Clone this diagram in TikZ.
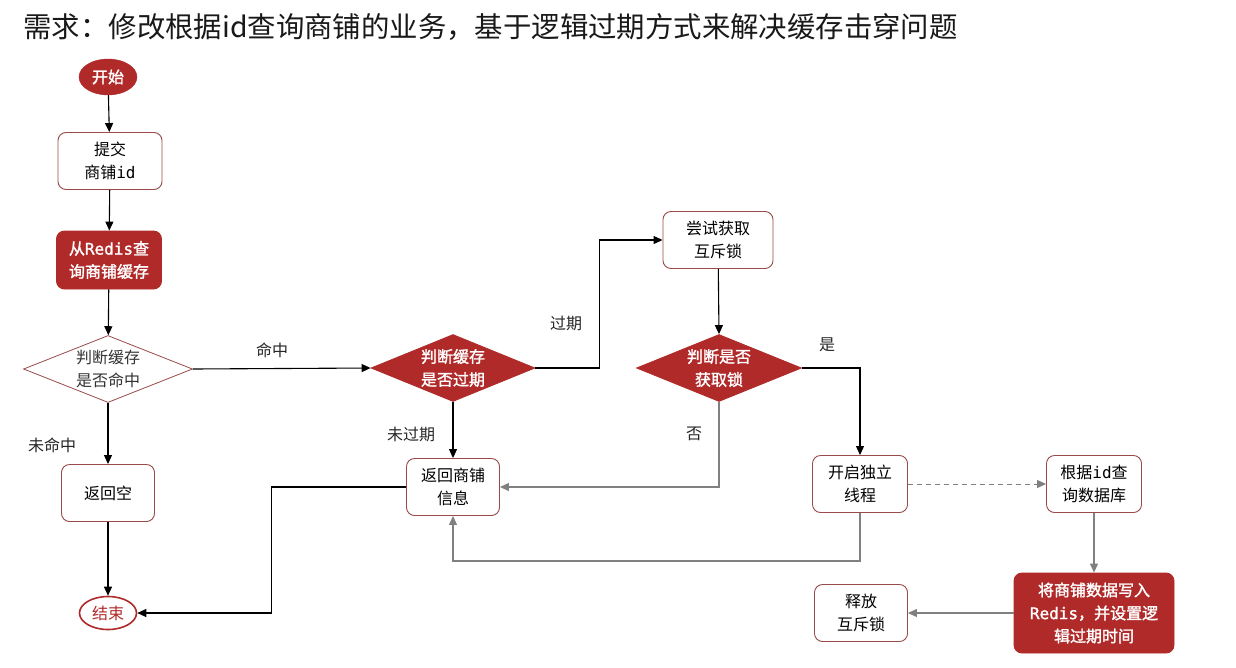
\documentclass[tikz,border=0pt]{standalone}
\usepackage{fontspec}
\setmainfont{Noto Sans CJK SC}
\newfontfamily\cjkb[FakeBold=1.6]{Noto Sans CJK SC}
\newfontfamily\mono{DejaVu Sans Mono}
\newfontfamily\monob[FakeBold=1.2]{DejaVu Sans Mono}
\usetikzlibrary{arrows.meta,shapes.geometric}
\definecolor{brick}{HTML}{B12A2A}
\definecolor{boxline}{HTML}{9A4A4A}
\definecolor{grayline}{HTML}{808080}
\tikzset{
  nodefont/.style={font=\fontsize{16}{23}\selectfont},
  whitebox/.style={draw=boxline, line width=0.9pt, rounded corners=8pt, fill=white,
     minimum width=#1, minimum height=57pt, inner sep=0pt, align=center, nodefont},
  whitebox/.default=94pt,
  redbox/.style={draw=brick, line width=0.9pt, rounded corners=8pt, fill=brick, text=white,
     minimum width=#1, minimum height=58pt, inner sep=0pt, align=center, nodefont},
  redbox/.default=105pt,
  wdia/.style={diamond, draw=boxline, line width=0.8pt, fill=white, inner sep=0pt,
     minimum width=169pt, minimum height=67pt, aspect=2.5},
  rdia/.style={diamond, draw=brick, line width=0.8pt, fill=brick, inner sep=0pt,
     minimum width=164pt, minimum height=67pt, aspect=2.5},
  dtext/.style={align=center, nodefont},
  arr/.style={draw=black, line width=1.1pt, -{Triangle[length=9pt,width=8pt]}},
  arrg/.style={draw=grayline, line width=1.1pt, -{Triangle[length=9pt,width=8pt]}},
  lab/.style={nodefont, text=black!85},
}
\begin{document}
\begin{tikzpicture}[x=1pt,y=-1pt]
\useasboundingbox (0,0) rectangle (1236,667);
\fill[white] (0,0) rectangle (1236,667);

\node[anchor=west, font=\fontsize{28.4}{32}\selectfont, text=black!90] (title) at (20,27)
  {需求：修改根据id查询商铺的业务，基于逻辑过期方式来解决缓存击穿问题};

% left column
\node[ellipse, fill=brick, draw=brick, text=white, minimum width=58pt, minimum height=36pt,
      inner sep=0pt, nodefont] (start) at (108,77) {\cjkb 开始};
\node[whitebox=104pt] (submit) at (110,161) {提交\\商铺{\mono id}};
\node[redbox] (redis) at (109,260) {{\cjkb 从}{\monob Redis}{\cjkb 查}\\{\cjkb 询商铺缓存}};
\node[wdia, label={[dtext, text=black!80]center:判断缓存\\是否命中}] (hit) at (108,369) {};
\node[whitebox=93pt] (empty) at (108,493) {返回空};
\node[ellipse, fill=white, draw=brick, line width=1.6pt, text=brick, minimum width=57pt,
      minimum height=33pt, inner sep=0pt, nodefont] (end) at (108,613) {结束};

% middle
\node[rdia, label={[dtext, text=white]center:{\cjkb 判断缓存}\\{\cjkb 是否过期}}] (expire) at (453,368) {};
\node[whitebox=93pt] (ret) at (453,487) {返回商铺\\信息};

% right
\node[whitebox=110pt] (trylock) at (718,240) {尝试获取\\互斥锁};
\node[rdia, minimum width=165pt, label={[dtext, text=white]center:{\cjkb 判断是否}\\{\cjkb 获取锁}}] (gotlock) at (719,368) {};
\node[whitebox=95pt] (thread) at (860,484) {开启独立\\线程};
\node[whitebox=95pt] (db) at (1094,484) {根据{\mono id}查\\询数据库};
\node[redbox=160pt, minimum height=80pt] (write) at (1094,613)
  {{\cjkb 将商铺数据写入}\\{\monob Redis}{\cjkb ，并设置逻}\\{\cjkb 辑过期时间}};
\node[whitebox=93pt] (release) at (861,613) {释放\\互斥锁};

% connectors
\draw[arr] (start) -- (submit);
\draw[arr] (submit) -- (redis);
\draw[arr] (redis) -- (hit);
\draw[arr] (hit.east) -- (expire.west);
\draw[arr] (hit.south) -- (empty);
\draw[arr] (empty) -- (end);
\draw[arr] (expire.east) -- ++(64,0) |- (trylock.west);
\draw[arr] (expire.south) -- (ret.north);
\draw[arr] (trylock) -- (gotlock.north);
\draw[arr] (gotlock.east) -| (thread.north);
\draw[arrg] (gotlock.south) |- (ret.east);
\draw[arrg] (thread.south) -- ++(0,48) -| (ret.south);
\draw[arrg, dashed, dash pattern=on 5pt off 4pt, line width=1pt] (thread.east) -- (db.west);
\draw[arrg] (db) -- (write);
\draw[arrg] (write) -- (release);
\draw[arr] (ret.west) -- ++(-135,0) |- (end.east);

% labels
\node[lab] (lhit) at (272,350) {命中};
\node[lab] (lmiss) at (52,445) {未命中};
\node[lab] (lexp) at (566,323) {过期};
\node[lab] (lnexp) at (411,434) {未过期};
\node[lab] (lyes) at (827,345) {是};
\node[lab] (lno) at (694,434) {否};
\end{tikzpicture}
\end{document}
